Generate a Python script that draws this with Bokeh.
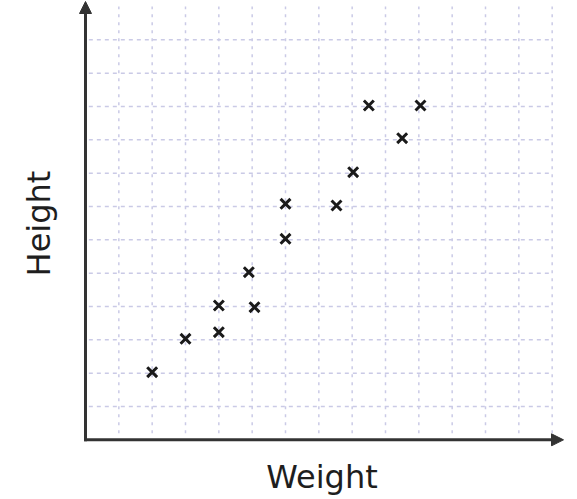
from bokeh.plotting import figure
from bokeh.models import Arrow, NormalHead, FixedTicker, Range1d
from bokeh.embed import file_html
from bokeh.resources import INLINE

# data (grid units)
weight = [2, 3, 4, 4, 5.07, 4.9, 6, 6, 7.53, 8.03, 8.5, 9.5, 10.05]
height = [2.03, 3.03, 3.23, 4.03, 3.98, 5.03, 6.03, 7.08, 7.03, 8.03, 10.03, 9.05, 10.03]
grid_x = list(range(1, 15))
grid_y = list(range(1, 13))
x_title = "Weight"
y_title = "Height"

p = figure(width=577, height=499,
           x_range=Range1d(-0.27, 14.46), y_range=Range1d(-0.2, 13.18),
           output_backend="svg", toolbar_location=None,
           min_border_left=76, min_border_right=10, min_border_top=0, min_border_bottom=53)
p.outline_line_color = None
p.grid.visible = False
p.background_fill_color = "white"
p.border_fill_color = "white"

for ax in p.axis:
    ax.ticker = FixedTicker(ticks=[])
    ax.axis_line_color = None
    ax.major_tick_line_color = None
    ax.minor_tick_line_color = None
    ax.major_label_text_font_size = "0px"
    ax.axis_label_text_font = "DejaVu Sans"
    ax.axis_label_text_font_size = "32px"
    ax.axis_label_text_font_style = "normal"
    ax.axis_label_text_color = "#1e1e1e"

p.xaxis.axis_label = x_title
p.yaxis.axis_label = y_title
p.xaxis.axis_label_standoff = 11
p.yaxis.axis_label_standoff = 19

grid_color = "#cacae6"
# vertical dotted grid lines
p.segment(x0=grid_x, y0=[0.2] * len(grid_x), x1=grid_x, y1=[13.0] * len(grid_x),
          line_color=grid_color, line_width=1.5, line_dash="3 5")
# horizontal dashed grid lines
p.segment(x0=[0.1] * len(grid_y), y0=grid_y, x1=[14.0] * len(grid_y), y1=grid_y,
          line_color=grid_color, line_width=1.5, line_dash="4 4")

# axes with arrows
p.add_layout(Arrow(x_start=-0.04, y_start=0, x_end=14.34, y_end=0,
                   line_color="#333333", line_width=3,
                   end=NormalHead(size=12, fill_color="#333333", line_color="#333333", line_width=1)))
p.add_layout(Arrow(x_start=0, y_start=-0.04, x_end=0, y_end=13.15,
                   line_color="#333333", line_width=3,
                   end=NormalHead(size=12, fill_color="#333333", line_color="#333333", line_width=1)))

p.scatter(weight, height, marker="x", size=14, line_width=3, line_color="#1a1a1a")

open("out.html", "w").write(file_html(p, INLINE))
